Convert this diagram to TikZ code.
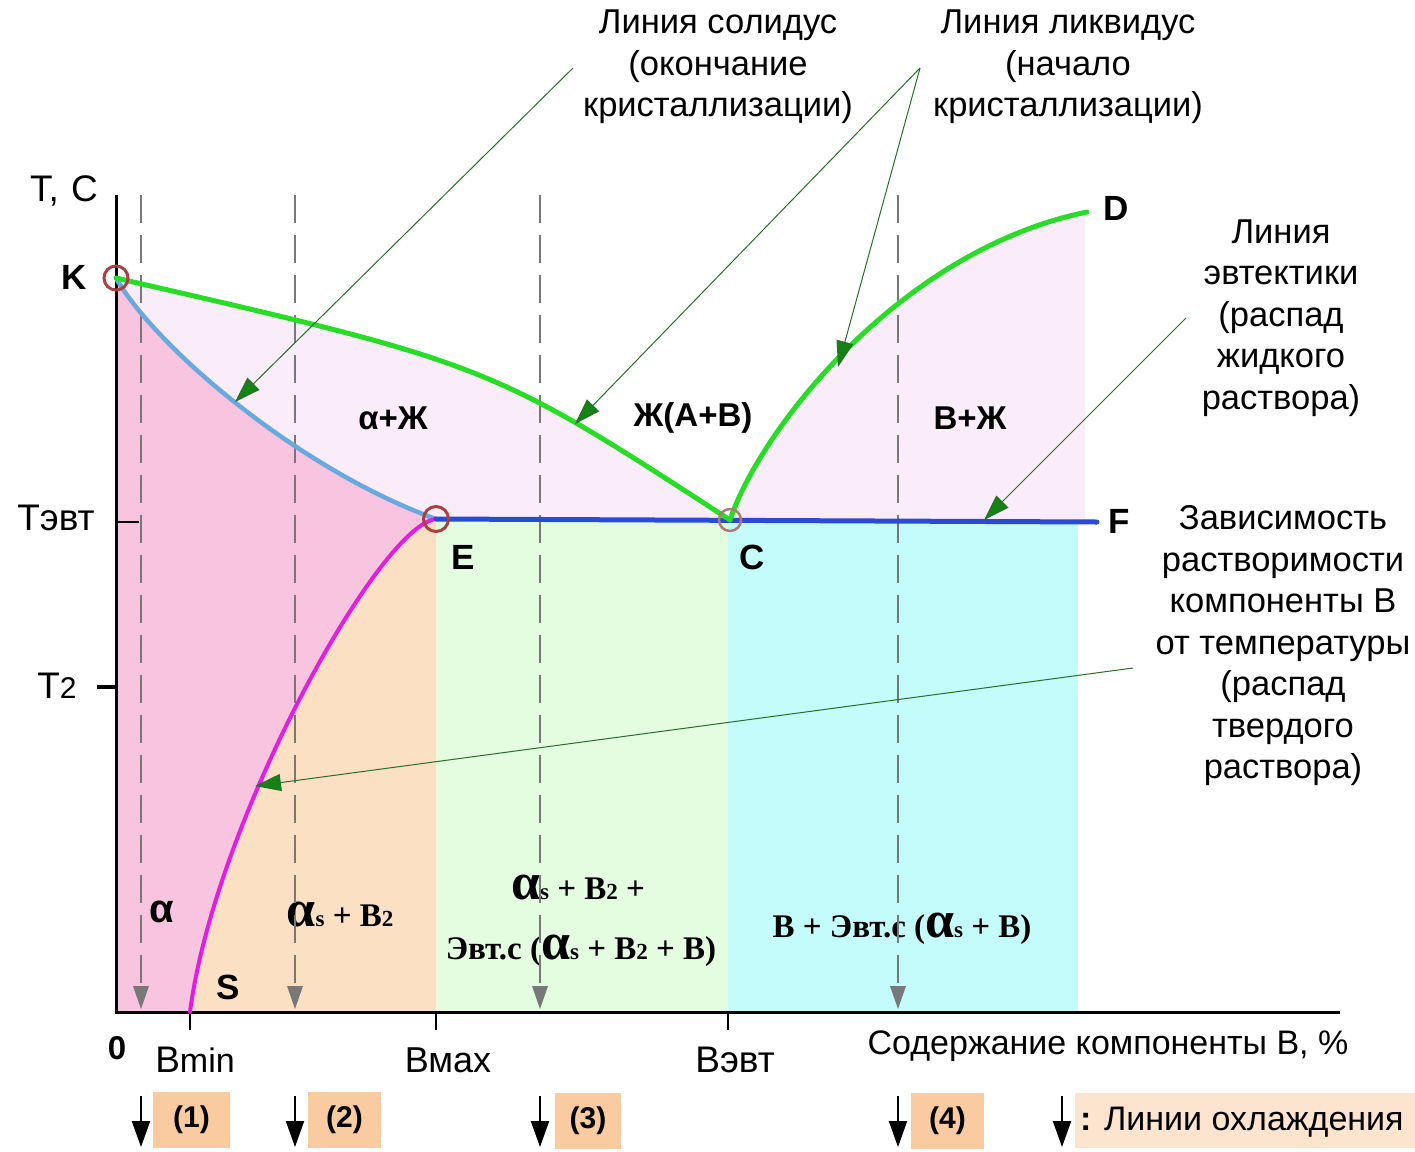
\documentclass[tikz,border=0pt]{standalone}
\usepackage{fontspec}
\setmainfont{Liberation Sans}
\newfontfamily\timesf{Liberation Serif}
\usetikzlibrary{arrows.meta}
\definecolor{pinkA}{RGB}{249,196,224}
\definecolor{peachA}{RGB}{252,224,196}
\definecolor{greenA}{RGB}{228,252,224}
\definecolor{cyanA}{RGB}{196,252,252}
\definecolor{lavA}{RGB}{251,236,250}
\definecolor{liqG}{RGB}{40,220,40}
\definecolor{solB}{RGB}{104,170,222}
\definecolor{solvM}{RGB}{226,30,226}
\definecolor{eutB}{RGB}{42,76,210}
\definecolor{ptR}{RGB}{170,64,64}
\definecolor{ptRC}{RGB}{168,128,112}
\definecolor{dgreen}{RGB}{40,110,40}
\definecolor{agreen}{RGB}{20,130,20}
\definecolor{boxA}{RGB}{250,203,160}
\definecolor{boxL}{RGB}{252,228,206}
\definecolor{coolG}{RGB}{120,120,120}
\newcommand\AlS{{\fontsize{52}{52}\selectfont α}{\fontsize{23}{23}\selectfont s}}
\newcommand\BtwO{В{\fontsize{23}{23}\selectfont 2}}
\begin{document}
\begin{tikzpicture}[x=1pt,y=-1pt,
  lab/.style={font=\fontsize{34.5}{41.5}\selectfont, align=center, inner sep=0pt},
  axlab/.style={font=\fontsize{34}{40}\selectfont, inner sep=0pt},
  tlab/.style={font=\fontsize{37}{40}\selectfont, inner sep=0pt},
  blab/.style={font=\bfseries\fontsize{33}{36}\selectfont, inner sep=0pt},
  plab/.style={font=\bfseries\fontsize{35}{38}\selectfont, inner sep=0pt},
  serlab/.style={font=\timesf\bfseries\fontsize{33}{33}\selectfont, inner sep=0pt},
  liqline/.style={draw=liqG, line width=5pt, line cap=round},
  solline/.style={draw=solB, line width=4.5pt, line cap=round},
  solvline/.style={draw=solvM, line width=4pt, line cap=round},
  eutline/.style={draw=eutB, line width=5pt, line cap=round},
  axisline/.style={draw=black, line width=3pt},
  cool/.style={draw=coolG, line width=1.5pt, dash pattern=on 28pt off 12pt},
  cooltip/.style={fill=coolG},
  legarrow/.style={draw=black, line width=2pt, -{Triangle[length=26pt,width=18pt]}},
  pointer/.style={draw=dgreen, line width=1pt, -{Triangle[length=26pt,width=17pt,fill=agreen]}},
  ptcirc/.style={circle, draw=ptR, line width=3pt, inner sep=0pt, minimum size=24pt},
  numbox/.style={fill=boxA, font=\bfseries\fontsize{30}{34}\selectfont, inner sep=0pt, minimum height=56pt}
]
\useasboundingbox (0,0) rectangle (1415,1151);
% key points
\coordinate (K) at (116,278);
\coordinate (E) at (436,519);
\coordinate (C) at (730,520);
\coordinate (D) at (1087,212);
\coordinate (F) at (1097,522);
\coordinate (S) at (190,1012);
\coordinate (O) at (116,1012);
\coordinate (Ytop) at (116,195);
\coordinate (Xend) at (1340,1012);
% region fills
\fill[pinkA] (K) .. controls (156,348) and (300,470) .. (E) .. controls (380,525) and (215,820) .. (S) -- (O) -- cycle;
\fill[peachA] (E) .. controls (380,525) and (215,820) .. (S) -- (436,1012) -- (436,520) -- cycle;
\fill[greenA] (436,520) rectangle (728,1012);
\fill[cyanA] (728,520) rectangle (1078,1012);
\fill[lavA] (K) .. controls (490,364) .. (C) -- (E) .. controls (300,470) and (156,348) .. (K) -- cycle;
\fill[lavA] (C) .. controls (760,430) and (900,250) .. (D) -- (1085,212) -- (1085,520) -- cycle;
% serif phase labels (under dashed lines)
\node[serlab] (ph2) at (340,914) {\AlS\ + \BtwO};
\node[serlab] (ph3a) at (578,887) {\AlS\ + \BtwO\ +};
\node[serlab] (ph3b) at (581,951) {Эвт.с (\AlS\ + \BtwO\ + В)};
\node[serlab] (ph4) at (902,929) {В + Эвт.с (\AlS\ + В)};
% cooling lines
\foreach \i/\x in {1/141,2/295,3/540,4/898}{
  \coordinate (dt\i) at (\x,195);
  \coordinate (db\i) at (\x,1009);
  \draw[cool] (dt\i) -- ([yshift=20pt]db\i);
  \fill[cooltip] (db\i) -- ++(-8,-23) -- ++(16,0) -- cycle;
}
% axes
\draw[axisline] (Ytop) -- (O) -- (Xend);
\coordinate (tE1) at (116,522); \coordinate (tE2) at (139,522);
\draw[line width=2pt] (tE1) -- (tE2);
\coordinate (t21) at (97,687); \coordinate (t22) at (116,687);
\draw[line width=4.5pt] (t21) -- (t22);
\foreach \n/\x in {bmin/190,bmax/436,bevt/728}{
  \coordinate (\n a) at (\x,1012); \coordinate (\n b) at (\x,1030);
  \draw[line width=2.5pt] (\n a) -- (\n b);
}
% phase lines
\draw[solline] (K) .. controls (156,348) and (300,470) .. (E);
\draw[solvline] (E) .. controls (380,525) and (215,820) .. (S);
\draw[eutline] (E) -- (F);
\draw[liqline] (K) .. controls (490,364) .. (C);
\draw[liqline] (C) .. controls (760,430) and (900,250) .. (D);
% point circles
\node[ptcirc] (Kc) at (K) {};
\node[ptcirc, minimum size=25pt] (Ec) at (E) {};
\node[ptcirc, draw=ptRC, line width=2.5pt, minimum size=22pt] (Cc) at (C) {};
% annotation texts
\node[lab] (solT) at (718,67) {Линия солидус\\(окончание\\кристаллизации)};
\node[lab] (liqT) at (1068,67) {Линия ликвидус\\(начало\\кристаллизации)};
\node[lab] (eutT) at (1281,318) {Линия\\эвтектики\\(распад\\жидкого\\раствора)};
\node[lab] (solvT) at (1283,646) {Зависимость\\растворимости\\компоненты В\\от температуры\\(распад\\твердого\\раствора)};
% pointers
\coordinate (pS0) at (573,68); \coordinate (pS1) at (235,402);
\coordinate (pL0) at (920,68); \coordinate (pL1) at (575,424); \coordinate (pL2) at (838,367);
\coordinate (pE0) at (1186,318); \coordinate (pE1) at (984,520);
\coordinate (pV0) at (1133,668); \coordinate (pV1) at (255,786);
\draw[pointer] (pS0) -- (pS1);
\draw[pointer] (pL0) -- (pL1);
\draw[pointer] (pL0) -- (pL2);
\draw[pointer] (pE0) -- (pE1);
\draw[pointer] (pV0) -- (pV1);
% point and axis labels
\node[tlab] (lT) at (64,191) {Т,\,\,С};
\node[plab] (lK) at (74,277) {K};
\node[tlab] (lTe) at (56,518) {Тэвт};
\node[tlab] (lT2) at (57,686) {Т{\fontsize{30}{30}\selectfont 2}};
\node[plab] (lE) at (463,557) {E};
\node[plab] (lC) at (752,557) {C};
\node[plab] (lD) at (1116,208) {D};
\node[plab] (lF) at (1119,521) {F};
\node[plab] (lS) at (228,987) {S};
\node[plab, font=\bfseries\fontsize{40}{40}\selectfont] (lal) at (162,912) {α};
\node[blab] (r1) at (393,418) {α+Ж};
\node[blab] (r2) at (693,418) {Ж(А+В)};
\node[blab] (r3) at (970,418) {В+Ж};
\node[plab, font=\bfseries\fontsize{33}{36}\selectfont] (l0) at (117,1048) {0};
\node[tlab] (lbmin) at (195,1060) {B{\fontsize{34}{34}\selectfont min}};
\node[tlab, font=\fontsize{36}{40}\selectfont] (lbmax) at (448,1060) {Вмах};
\node[tlab] (lbevt) at (735,1060) {Вэвт};
\node[axlab] (lxax) at (1108,1046) {Содержание компоненты В, \%};
% legend
\node[numbox, minimum width=77pt] (n1) at (191.5,1120) {(1)};
\node[numbox, minimum width=73pt] (n2) at (344.5,1120) {(2)};
\node[numbox, minimum width=66pt] (n3) at (588,1121) {(3)};
\node[numbox, minimum width=73pt] (n4) at (947.5,1121) {(4)};
\node[fill=boxL, minimum width=340pt, minimum height=55pt, inner sep=0pt] (lg) at (1245,1120.5) {};
\node[axlab, anchor=west] (lgt) at (1080,1122) {{\bfseries :} Линии охлаждения};
\foreach \i/\x in {1/141,2/295,3/540,4/898,5/1062}{
  \coordinate (lt\i) at (\x,1096);
  \coordinate (lb\i) at (\x,1147);
  \draw[legarrow] (lt\i) -- (lb\i);
}
\end{tikzpicture}
\end{document}
